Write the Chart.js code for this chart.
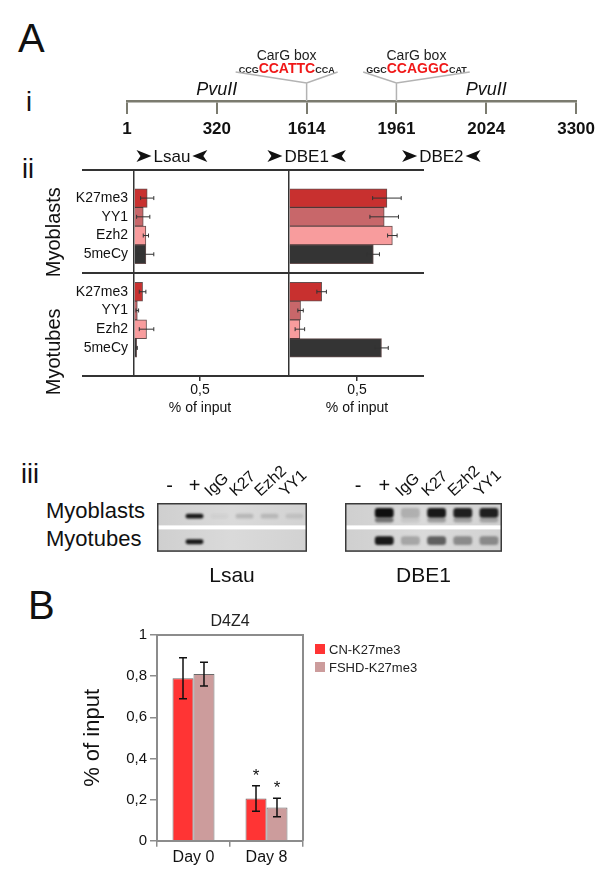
<!DOCTYPE html>
<html>
<head>
<meta charset="utf-8">
<script src="https://cdn.jsdelivr.net/npm/chart.js@4.4.1/dist/chart.umd.min.js"></script>
<style>
  html, body { margin: 0; padding: 0; background: #fff; }
  body { width: 600px; height: 870px; position: relative; overflow: hidden;
         font-family: "Liberation Sans", Arial, sans-serif; color: #111; }
  .txt { position: absolute; line-height: 1; white-space: nowrap; }
  .panel { font-size: 40px; }
  .roman { font-size: 27px; }
  .gelrow { font-size: 22px; }
  canvas { position: absolute; }
</style>
</head>
<body>
<div class="txt panel" style="left:18px;top:18px">A</div>
<div class="txt roman" style="left:26px;top:89px">i</div>
<div class="txt roman" style="left:22px;top:156px">ii</div>
<div class="txt roman" style="left:21px;top:461px">iii</div>
<div class="txt gelrow" style="left:46px;top:500px">Myoblasts</div>
<div class="txt gelrow" style="left:46px;top:528px">Myotubes</div>
<div class="txt panel" style="left:28px;top:585px">B</div>

<canvas id="mapChart" width="600" height="175" style="left:0;top:0"></canvas>
<canvas id="lsauChart" width="289" height="270" style="left:0;top:150px"></canvas>
<canvas id="dbeChart" width="170" height="270" style="left:270px;top:150px"></canvas>
<canvas id="lsauGel" width="150" height="125" style="left:157px;top:465px"></canvas>
<canvas id="dbeGel" width="157" height="125" style="left:345px;top:465px"></canvas>
<canvas id="d4z4Chart" width="360" height="272" style="left:80px;top:596px"></canvas>

<script>
// ---- data ----
// (i) D4Z4 unit map
var mapSites = [1, 320, 1614, 1961, 2024, 3300];
var pvuIISites = [320, 2024];
var cargSites = [1614, 1961];
var cargFlank5 = ['CCG', 'GGC'];
var cargCore = ['CCATTC', 'CCAGGC'];
var cargFlank3 = ['CCA', 'CAT'];
var primerNames = ['Lsau', 'DBE1', 'DBE2'];
var primerFrom = [1, 1614, 1961];
var primerTo = [320, 1614, 2024];

// (ii) ChIP, % of input
var markers = ['K27me3', 'YY1', 'Ezh2', '5meCy'];
var cellGroups = ['Myoblasts', 'Myotubes'];
var lsauMyoblasts = [0.10, 0.07, 0.09, 0.09];
var lsauMyoblastsErr = [0.05, 0.05, 0.02, 0.06];
var lsauMyotubes = [0.065, 0.025, 0.095, 0.02];
var lsauMyotubesErr = [0.025, 0.01, 0.055, 0.005];
var dbeMyoblasts = [0.72, 0.70, 0.76, 0.62];
var dbeMyoblastsErr = [0.105, 0.105, 0.035, 0.045];
var dbeMyotubes = [0.24, 0.085, 0.08, 0.68];
var dbeMyotubesErr = [0.035, 0.02, 0.035, 0.05];

// (iii) PCR gel lanes, band intensity 0..1
var gelLanes = ['-', '+', 'IgG', 'K27', 'Ezh2', 'YY1'];
var lsauGelMyoblasts = [0, 0.95, 0.04, 0.16, 0.15, 0.1];
var lsauGelMyotubes = [0, 0.95, 0, 0, 0, 0];
var dbeGelMyoblasts = [0, 1, 0.2, 0.95, 0.92, 0.92];
var dbeGelMyoblastsLow = [0, 0.5, 0.08, 0.3, 0.28, 0.25];
var dbeGelMyotubes = [0, 0.95, 0.25, 0.6, 0.38, 0.38];

// (B) D4Z4 K27me3
var days = ['Day 0', 'Day 8'];
var cnK27 = [0.79, 0.205];
var cnK27Err = [0.10, 0.062];
var cnStars = ['', '*'];
var fshdK27 = [0.81, 0.162];
var fshdK27Err = [0.058, 0.045];
var fshdStars = ['', '*'];

// ---- styles ----
var FONT = '"Liberation Sans", Arial, sans-serif';
Chart.defaults.font.family = FONT;
Chart.defaults.color = '#111';
var markerColors = ['#c8302f', '#c8676a', '#f89c9d', '#343434'];

// ---- plugins ----
var errorBars = {
  id: 'errorBars',
  afterDatasetsDraw: function(chart) {
    var ctx = chart.ctx;
    var horizontal = chart.options.indexAxis === 'y';
    var vs = horizontal ? chart.scales.x : chart.scales.y;
    chart.data.datasets.forEach(function(ds, di) {
      if (!ds.errors) return;
      var meta = chart.getDatasetMeta(di);
      meta.data.forEach(function(bar, i) {
        var v = ds.data[i], e = ds.errors[i];
        if (v == null || e == null) return;
        var lo = vs.getPixelForValue(v - e), hi = vs.getPixelForValue(v + e);
        ctx.save();
        ctx.strokeStyle = ds.errorColor || '#222';
        ctx.lineWidth = ds.errorWidth || 1;
        ctx.beginPath();
        if (horizontal) {
          var c = 2;
          ctx.moveTo(lo, bar.y); ctx.lineTo(hi, bar.y);
          ctx.moveTo(lo, bar.y - c); ctx.lineTo(lo, bar.y + c);
          ctx.moveTo(hi, bar.y - c); ctx.lineTo(hi, bar.y + c);
        } else {
          var w = 4;
          ctx.moveTo(bar.x, lo); ctx.lineTo(bar.x, hi);
          ctx.moveTo(bar.x - w, lo); ctx.lineTo(bar.x + w, lo);
          ctx.moveTo(bar.x - w, hi); ctx.lineTo(bar.x + w, hi);
        }
        ctx.stroke();
        if (ds.stars && ds.stars[i]) {
          ctx.fillStyle = '#111';
          ctx.font = '17px ' + FONT;
          ctx.textAlign = 'center';
          ctx.textBaseline = 'middle';
          ctx.fillText(ds.stars[i], bar.x, hi - 10);
        }
        ctx.restore();
      });
    });
  }
};

// horizontal rules and rotated group names for panel ii
var groupFrame = {
  id: 'groupFrame',
  afterDraw: function(chart, args, opts) {
    var ctx = chart.ctx, ys = chart.scales.y, area = chart.chartArea;
    ctx.save();
    ctx.strokeStyle = '#333';
    ctx.lineWidth = 1.8;
    [area.top, ys.getPixelForValue(5), area.bottom].forEach(function(y) {
      ctx.beginPath(); ctx.moveTo(opts.x0, y); ctx.lineTo(opts.x1, y); ctx.stroke();
    });
    if (opts.groupNames) {
      ctx.fillStyle = '#111';
      ctx.font = '20px ' + FONT;
      ctx.textAlign = 'center';
      ctx.textBaseline = 'middle';
      var centers = [ys.getPixelForValue(2.5) + 6, ys.getPixelForValue(7.5) + 32];
      cellGroups.forEach(function(name, i) {
        ctx.save();
        ctx.translate(54, centers[i]);
        ctx.rotate(-Math.PI / 2);
        ctx.fillText(name, 0, 0);
        ctx.restore();
      });
    }
    ctx.restore();
  }
};

function arrowHead(ctx, x, y, dir) {
  ctx.beginPath();
  ctx.moveTo(x + dir * 15, y);
  ctx.lineTo(x, y - 6);
  ctx.lineTo(x + dir * 4, y);
  ctx.lineTo(x, y + 6);
  ctx.closePath();
  ctx.fill();
}

var mapAnnotations = {
  id: 'mapAnnotations',
  afterDraw: function(chart) {
    var ctx = chart.ctx, xs = chart.scales.x, y0 = xs.top;
    function px(site) { return xs.getPixelForValue(mapSites.indexOf(site)); }
    ctx.save();
    // PvuII sites
    ctx.fillStyle = '#111';
    ctx.font = 'italic 18px ' + FONT;
    ctx.textAlign = 'center';
    ctx.textBaseline = 'alphabetic';
    pvuIISites.forEach(function(s) { ctx.fillText('PvuII', px(s), y0 - 6); });

    // CarG boxes
    cargSites.forEach(function(s, i) {
      var x = px(s);
      var side = i === 0 ? -1 : 1;
      var lx = x + side * 20;
      ctx.font = 'bold 9px ' + FONT;
      var w5 = ctx.measureText(cargFlank5[i]).width;
      var w3 = ctx.measureText(cargFlank3[i]).width;
      ctx.font = 'bold 14px ' + FONT;
      var wc = ctx.measureText(cargCore[i]).width;
      var total = w5 + wc + w3;
      var sx = lx - total / 2;
      var by = y0 - 28;
      ctx.textAlign = 'left';
      ctx.fillStyle = '#222';
      ctx.font = 'bold 9px ' + FONT;
      ctx.fillText(cargFlank5[i], sx, by);
      ctx.fillText(cargFlank3[i], sx + w5 + wc, by);
      ctx.fillStyle = '#f01818';
      ctx.font = 'bold 14px ' + FONT;
      ctx.fillText(cargCore[i], sx + w5, by);
      ctx.fillStyle = '#222';
      ctx.font = '14px ' + FONT;
      ctx.textAlign = 'center';
      ctx.fillText('CarG box', lx, y0 - 41);
      ctx.strokeStyle = '#b3b3b3';
      ctx.lineWidth = 1.5;
      ctx.beginPath();
      ctx.moveTo(sx - 3, y0 - 29);
      ctx.lineTo(x, y0 - 18);
      ctx.lineTo(sx + total + 3, y0 - 29);
      ctx.moveTo(x, y0 - 18);
      ctx.lineTo(x, y0);
      ctx.stroke();
    });

    // primer pairs
    ctx.fillStyle = '#111';
    ctx.font = '17px ' + FONT;
    ctx.textBaseline = 'middle';
    ctx.textAlign = 'center';
    primerNames.forEach(function(name, i) {
      var cx = (px(primerFrom[i]) + px(primerTo[i])) / 2;
      var tw = ctx.measureText(name).width;
      var py = y0 + 55;
      ctx.fillText(name, cx, py + 1);
      arrowHead(ctx, cx - tw / 2 - 17, py, 1);
      arrowHead(ctx, cx + tw / 2 + 17, py, -1);
    });
    ctx.restore();
  }
};

var gelLook = {
  id: 'gelLook',
  beforeDatasetsDraw: function(chart) {
    var ctx = chart.ctx, a = chart.chartArea, ys = chart.scales.y;
    ctx.save();
    var g = ctx.createLinearGradient(a.left, 0, a.right, 0);
    g.addColorStop(0, '#cfcfcf');
    g.addColorStop(0.5, '#dadada');
    g.addColorStop(1, '#d2d2d2');
    ctx.fillStyle = g;
    ctx.fillRect(a.left, a.top, a.right - a.left, a.bottom - a.top);
    ctx.fillStyle = '#ffffff';
    var sy = ys.getPixelForValue(1);
    ctx.fillRect(a.left, sy - 2, a.right - a.left, 4);
    ctx.restore();
    ctx.save();
    ctx.filter = 'blur(1px)';
  },
  afterDatasetsDraw: function(chart) {
    chart.ctx.restore();
    var ctx = chart.ctx, a = chart.chartArea;
    ctx.save();
    ctx.strokeStyle = '#3a3a3a';
    ctx.lineWidth = 1.5;
    ctx.strokeRect(a.left + 0.75, a.top + 0.75, a.right - a.left - 1.5, a.bottom - a.top - 1.5);
    ctx.restore();
  },
  afterDraw: function(chart) {
    var ctx = chart.ctx, xs = chart.scales.x, top = chart.chartArea.top;
    ctx.save();
    ctx.fillStyle = '#111';
    chart.data.labels.forEach(function(lab, i) {
      var x = xs.getPixelForValue(i);
      if (lab === '-' || lab === '+') {
        ctx.font = '20px ' + FONT;
        ctx.textAlign = 'center';
        ctx.textBaseline = 'middle';
        ctx.fillText(lab, x, top - 17);
      } else {
        ctx.save();
        ctx.translate(x - 9, top - 6);
        ctx.rotate(-0.75);
        ctx.font = '16px ' + FONT;
        ctx.textAlign = 'left';
        ctx.textBaseline = 'alphabetic';
        ctx.fillText(lab, 0, 0);
        ctx.restore();
      }
    });
    ctx.restore();
  }
};

// plot frame, title and legend for panel B
var plotBox = {
  id: 'plotBox',
  afterDraw: function(chart, args, opts) {
    var ctx = chart.ctx, a = chart.chartArea;
    ctx.save();
    ctx.strokeStyle = '#8c8c8c';
    ctx.lineWidth = 2;
    ctx.beginPath();
    ctx.moveTo(a.left, a.top); ctx.lineTo(a.right, a.top); ctx.lineTo(a.right, a.bottom);
    ctx.stroke();
    ctx.fillStyle = '#222';
    ctx.font = '16px ' + FONT;
    ctx.textAlign = 'center';
    ctx.textBaseline = 'middle';
    ctx.fillText(opts.title, (a.left + a.right) / 2, a.top - 13);
    ctx.font = '13px ' + FONT;
    ctx.textAlign = 'left';
    chart.data.datasets.forEach(function(ds, i) {
      var y = a.top + 14 + i * 18;
      ctx.fillStyle = ds.backgroundColor;
      ctx.fillRect(a.right + 12, y - 5, 10, 10);
      ctx.fillStyle = '#222';
      ctx.fillText(ds.label, a.right + 26, y + 1);
    });
    ctx.restore();
  }
};

// ---- (i) map ----
new Chart(document.getElementById('mapChart'), {
  type: 'line',
  data: { labels: mapSites.map(String), datasets: [] },
  options: {
    responsive: false, animation: false,
    layout: { padding: { left: 127, right: 20, top: 0, bottom: 0 } },
    plugins: { legend: { display: false }, tooltip: { enabled: false } },
    scales: {
      x: {
        offset: false,
        grid: { drawOnChartArea: false, tickLength: 13, color: '#7b7b6f', lineWidth: 2 },
        border: { color: '#7b7b6f', width: 2.5 },
        ticks: { font: { size: 17, weight: 'bold' }, color: '#111', padding: 5, autoSkip: false, maxRotation: 0 },
        afterFit: function(s) { s.height = 74; }
      },
      y: { display: false, min: 0, max: 1 }
    }
  },
  plugins: [mapAnnotations]
});

// ---- (ii) ChIP bars ----
function rowsOf(a, b) { return [null].concat(a, [null], b, [null]); }
var rowLabels = [''].concat(markers, [''], markers, ['']);
var rowColors = ['transparent'].concat(markerColors, ['transparent'], markerColors, ['transparent']);

function chipChart(id, values, errors, showLabels, frame, padRight, yWidth) {
  return new Chart(document.getElementById(id), {
    type: 'bar',
    data: {
      labels: rowLabels,
      datasets: [{
        data: values, errors: errors,
        backgroundColor: rowColors,
        borderColor: 'rgba(50,20,20,0.75)', borderWidth: 1,
        categoryPercentage: 1, barPercentage: 1,
        errorColor: '#333', errorWidth: 1
      }]
    },
    options: {
      indexAxis: 'y', responsive: false, animation: false,
      layout: { padding: { top: 20, right: padRight, left: 0, bottom: 0 } },
      plugins: { legend: { display: false }, tooltip: { enabled: false }, groupFrame: frame },
      scales: {
        x: {
          min: 0, max: 1,
          ticks: { stepSize: 0.5, font: { size: 14 }, color: '#111', padding: 1,
                   callback: function(v) { return v === 0.5 ? '0,5' : ''; } },
          grid: { drawOnChartArea: false, tickLength: 5, lineWidth: 1.5,
                  color: function(c) { return c.tick && c.tick.value === 0.5 ? '#333' : 'transparent'; } },
          border: { display: false },
          title: { display: true, text: '% of input', font: { size: 14 }, color: '#111', padding: { top: 0, bottom: 3 } },
          afterFit: function(s) { s.height = 44; }
        },
        y: {
          ticks: { display: showLabels, autoSkip: false, font: { size: 14 }, color: '#111', padding: 6 },
          grid: { display: false, drawTicks: false },
          border: { display: true, color: '#333', width: 1.5 },
          afterFit: function(s) { s.width = yWidth; }
        }
      }
    },
    plugins: [errorBars, groupFrame]
  });
}

chipChart('lsauChart', rowsOf(lsauMyoblasts, lsauMyotubes), rowsOf(lsauMyoblastsErr, lsauMyotubesErr),
  true, { x0: 82, x1: 289, groupNames: true }, 23, 134);
chipChart('dbeChart', rowsOf(dbeMyoblasts, dbeMyotubes), rowsOf(dbeMyoblastsErr, dbeMyotubesErr),
  false, { x0: 0, x1: 154, groupNames: false }, 15, 19);

// ---- (iii) gels ----
function shade(v) { return 'rgba(15,15,15,' + v + ')'; }
function bandSet(intensities, extent) {
  return { data: intensities.map(function() { return extent; }), backgroundColor: intensities.map(shade), grouped: false };
}
function gelChart(id, title, bands) {
  return new Chart(document.getElementById(id), {
    type: 'bar',
    data: { labels: gelLanes, datasets: bands },
    options: {
      responsive: false, animation: false,
      layout: { padding: { top: 38, bottom: 0, left: 0, right: 0 } },
      datasets: { bar: { barPercentage: 0.72, categoryPercentage: 1, borderWidth: 0, borderRadius: 3, borderSkipped: false } },
      plugins: {
        legend: { display: false }, tooltip: { enabled: false },
        title: { display: true, text: title, position: 'bottom', font: { size: 21, weight: 'normal' }, color: '#111', padding: { top: 12, bottom: 1 } }
      },
      scales: {
        x: { display: false },
        y: { display: false, min: 0, max: 2, reverse: true }
      }
    },
    plugins: [gelLook]
  });
}
gelChart('lsauGel', 'Lsau', [
  bandSet(lsauGelMyoblasts, [0.44, 0.64]),
  bandSet(lsauGelMyotubes, [1.49, 1.69])
]);
gelChart('dbeGel', 'DBE1', [
  bandSet(dbeGelMyoblastsLow, [0.6, 0.8]),
  bandSet(dbeGelMyoblasts, [0.2, 0.6]),
  bandSet(dbeGelMyotubes, [1.36, 1.72])
]);

// ---- (B) D4Z4 ----
new Chart(document.getElementById('d4z4Chart'), {
  type: 'bar',
  data: {
    labels: days,
    datasets: [
      { label: 'CN-K27me3', data: cnK27, errors: cnK27Err, stars: cnStars,
        backgroundColor: '#ff3434', borderColor: '#6a6a6a', borderWidth: 1, errorColor: '#111', errorWidth: 1.5 },
      { label: 'FSHD-K27me3', data: fshdK27, errors: fshdK27Err, stars: fshdStars,
        backgroundColor: '#cc9c9c', borderColor: '#6a6a6a', borderWidth: 1, errorColor: '#111', errorWidth: 1.5 }
    ]
  },
  options: {
    responsive: false, animation: false,
    layout: { padding: { left: 0, top: 39, bottom: 0, right: 137 } },
    datasets: { bar: { categoryPercentage: 0.575, barPercentage: 1 } },
    plugins: {
      tooltip: { enabled: false },
      legend: { display: false },
      plotBox: { title: 'D4Z4' }
    },
    scales: {
      x: {
        grid: { offset: true, drawOnChartArea: false, tickLength: 6, color: '#8c8c8c', lineWidth: 1.5 },
        border: { color: '#8c8c8c', width: 2 },
        ticks: { font: { size: 16 }, color: '#111', padding: 1 }
      },
      y: {
        min: 0, max: 1,
        ticks: { stepSize: 0.2, font: { size: 15 }, color: '#111', padding: 3,
                 callback: function(v) { return (v === 0 || v === 1) ? String(v) : v.toFixed(1).replace('.', ','); } },
        grid: { drawOnChartArea: false, tickLength: 7, color: '#8c8c8c', lineWidth: 1.5 },
        border: { color: '#8c8c8c', width: 2 },
        title: { display: true, text: '% of input', font: { size: 22 }, color: '#111', padding: 0 },
        afterFit: function(s) { s.width = 77; }
      }
    }
  },
  plugins: [errorBars, plotBox]
});
</script>
</body>
</html>
